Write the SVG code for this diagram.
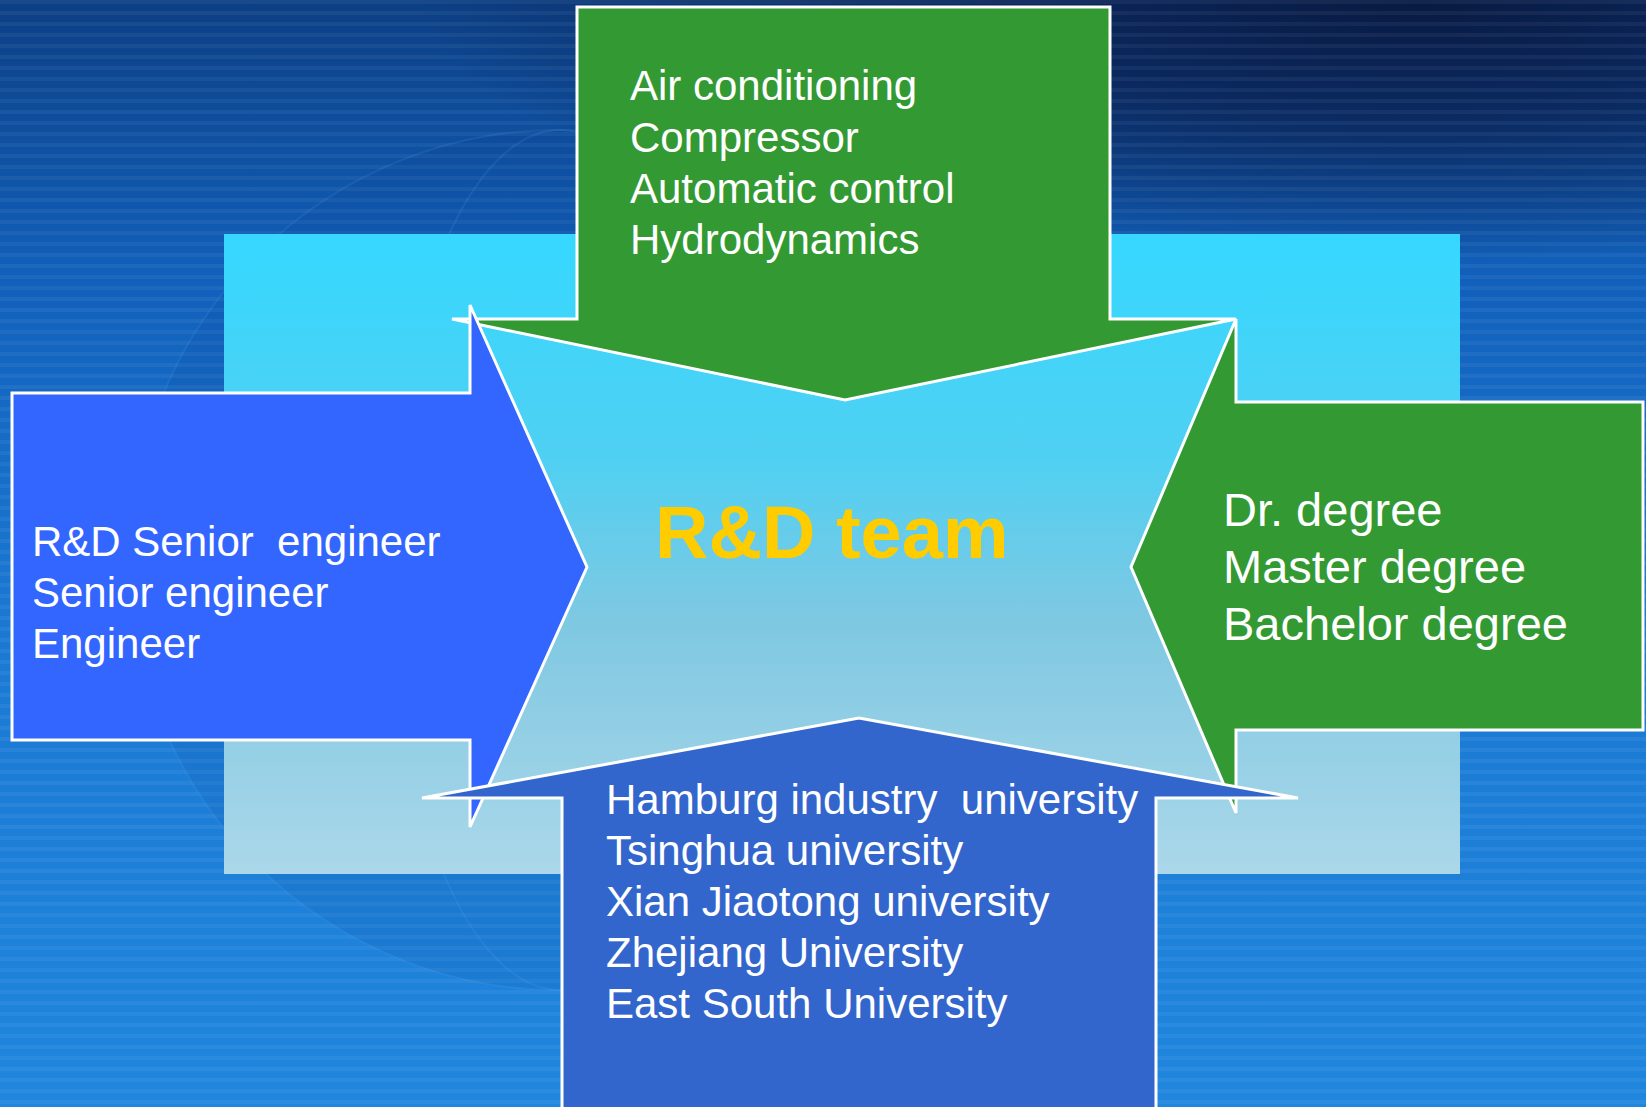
<svg xmlns="http://www.w3.org/2000/svg" width="1646" height="1107" viewBox="0 0 1646 1107">
  <defs>
    <linearGradient id="bgGrad" x1="0" y1="0" x2="0" y2="1">
      <stop offset="0" stop-color="#0c3f84"/>
      <stop offset="0.25" stop-color="#1160bb"/>
      <stop offset="0.55" stop-color="#1a78d2"/>
      <stop offset="1" stop-color="#2086de"/>
    </linearGradient>
    <radialGradient id="darkCorner" cx="0" cy="0" r="1" gradientUnits="userSpaceOnUse" gradientTransform="translate(1420,0) scale(1000,260)">
      <stop offset="0" stop-color="#081a42" stop-opacity="1"/>
      <stop offset="0.45" stop-color="#0a2458" stop-opacity="0.85"/>
      <stop offset="1" stop-color="#0a2458" stop-opacity="0"/>
    </radialGradient>
    <linearGradient id="panelGrad" x1="0" y1="0" x2="0" y2="1">
      <stop offset="0" stop-color="#36d8ff"/>
      <stop offset="0.35" stop-color="#4fd0f2"/>
      <stop offset="0.6" stop-color="#7ec8e2"/>
      <stop offset="1" stop-color="#abd7e9"/>
    </linearGradient>
    <pattern id="stripes" x="0" y="0" width="40" height="11" patternUnits="userSpaceOnUse">
      <rect x="0" y="0" width="40" height="4" fill="#ffffff" fill-opacity="0.05"/>
    </pattern>
  </defs>
  <style>
    .arrow { stroke: #ffffff; stroke-width: 3; stroke-linejoin: miter; }
    .green { fill: #339933; }
    .blueL { fill: #3366ff; }
    .blueB { fill: #3366cc; }
    .lbl { font-family: "Liberation Sans", Arial, sans-serif; fill: #ffffff; white-space: pre; }
    .title { font-family: "Liberation Sans", Arial, sans-serif; font-weight: bold; fill: #ffcc00; }
  </style>

  <!-- background -->
  <g id="background">
    <rect x="0" y="0" width="1646" height="1107" fill="url(#bgGrad)"/>
    <rect x="0" y="0" width="1646" height="1107" fill="url(#darkCorner)"/>
    <rect x="0" y="0" width="1646" height="1107" fill="url(#stripes)"/>
    <circle cx="560" cy="560" r="430" fill="#0a3c88" fill-opacity="0.1"/>
    <g fill="none" stroke="#6fb4ff" stroke-opacity="0.12" stroke-width="2">
      <circle cx="560" cy="560" r="430"/>
      <ellipse cx="560" cy="560" rx="430" ry="150"/>
      <ellipse cx="560" cy="560" rx="170" ry="430"/>
    </g>
  </g>

  <!-- light central panel -->
  <rect id="panel" x="224" y="234" width="1236" height="640" fill="url(#panelGrad)"/>

  <g id="connectors"></g>

  <g id="node-top">
    <polygon class="arrow green" points="577,7 1110,7 1110,319 1236,319 845,400 452,319 577,319"/>
    <text class="lbl" font-size="42" x="630" y="100">Air conditioning</text>
    <text class="lbl" font-size="42" x="630" y="152">Compressor</text>
    <text class="lbl" font-size="42" x="630" y="203">Automatic control</text>
    <text class="lbl" font-size="42" x="630" y="254">Hydrodynamics</text>
  </g>

  <g id="node-left">
    <polygon class="arrow blueL" points="12,393 470,393 470,305 587,567 470,827 470,740 12,740"/>
    <text class="lbl" font-size="42" x="32" y="556">R&amp;D Senior  engineer</text>
    <text class="lbl" font-size="42" x="32" y="607">Senior engineer</text>
    <text class="lbl" font-size="42" x="32" y="658">Engineer</text>
  </g>

  <g id="node-right">
    <polygon class="arrow green" points="1643,402 1236,402 1236,319 1131,567 1236,813 1236,730 1643,730"/>
    <text class="lbl" font-size="47" x="1223" y="526">Dr. degree</text>
    <text class="lbl" font-size="47" x="1223" y="583">Master degree</text>
    <text class="lbl" font-size="47" x="1223" y="640">Bachelor degree</text>
  </g>

  <g id="node-bottom">
    <polygon class="arrow blueB" points="562,1115 562,798 422,798 859,718 1298,798 1156,798 1156,1115"/>
    <text class="lbl" font-size="42" x="606" y="814">Hamburg industry  university</text>
    <text class="lbl" font-size="42" x="606" y="865">Tsinghua university</text>
    <text class="lbl" font-size="42" x="606" y="916">Xian Jiaotong university</text>
    <text class="lbl" font-size="42" x="606" y="967">Zhejiang University</text>
    <text class="lbl" font-size="42" x="606" y="1018">East South University</text>
  </g>

  <g id="node-center">
    <text class="title" font-size="74" x="655" y="558">R&amp;D team</text>
  </g>
</svg>
